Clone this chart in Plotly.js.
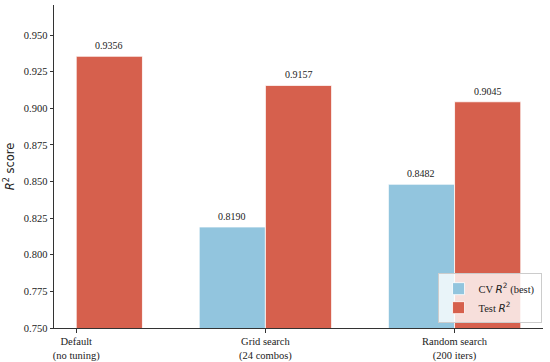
<!DOCTYPE html>
<html><head><meta charset="utf-8">
<script src="https://cdn.plot.ly/plotly-3.0.1.min.js"></script>
<style>html,body{margin:0;padding:0;background:#fff}#c{width:550px;height:362px}</style>
</head><body><div id="c"></div>
<script>
const categories = ["Default<br>(no tuning)", "Grid search<br>(24 combos)", "Random search<br>(200 iters)"];
const catPos = [0, 1, 2];
const cvValues = [null, 0.8190, 0.8482];
const testValues = [0.9356, 0.9157, 0.9045];
const rSym = "<span style='font-family:DejaVu Sans'><i>R</i><sup>2</sup></span>";
const cvName = "CV " + rSym + " (best)";
const testName = "Test " + rSym;
const yTicks = [0.750, 0.775, 0.800, 0.825, 0.850, 0.875, 0.900, 0.925, 0.950];

const W = 0.35;
const serif = "Liberation Serif";

const traces = [
  {type: "bar", name: cvName, x: catPos, y: cvValues, width: W, offset: -W,
   marker: {color: "#92c5de", line: {color: "#ffffff", width: 0.8}}, base: 0},
  {type: "bar", name: testName, x: catPos, y: testValues, width: W, offset: 0,
   marker: {color: "#d6604d", line: {color: "#ffffff", width: 0.8}}, base: 0}
];

const annotations = [];
catPos.forEach((p, i) => {
  if (cvValues[i] != null) annotations.push({x: p - W/2, y: cvValues[i], text: cvValues[i].toFixed(4),
    showarrow: false, yanchor: "bottom", yshift: 3, font: {family: serif, size: 10, color: "#222"}});
  annotations.push({x: p + W/2, y: testValues[i], text: testValues[i].toFixed(4),
    showarrow: false, yanchor: "bottom", yshift: 3, font: {family: serif, size: 10, color: "#222"}});
});

const layout = {
  width: 550, height: 362,
  margin: {l: 54, r: 7, t: 5, b: 34},
  paper_bgcolor: "#fff", plot_bgcolor: "#fff",
  barmode: "overlay",
  font: {family: serif, size: 10.5, color: "#222"},
  xaxis: {range: [-0.1175, 2.4675], tickvals: catPos, ticktext: categories,
    showgrid: false, zeroline: false, showline: true, linecolor: "#333", linewidth: 1,
    ticks: "outside", ticklen: 3.5, tickcolor: "#333", tickfont: {family: serif, size: 10.5, color: "#222"}},
  yaxis: {range: [0.75, 0.9706], tickvals: yTicks, ticktext: yTicks.map(v => v.toFixed(3)),
    showgrid: false, zeroline: false, showline: true, linecolor: "#333", linewidth: 1,
    ticks: "outside", ticklen: 3.5, tickcolor: "#333", tickfont: {family: serif, size: 10.5, color: "#222"},
    title: {text: "<i>R</i><sup>2</sup> score", font: {family: "DejaVu Sans", size: 11.5, color: "#222"}, standoff: 6}},
  legend: {x: 0.997, y: 0.015, xanchor: "right", yanchor: "bottom",
    bgcolor: "rgba(255,255,255,0.8)", bordercolor: "#ccc", borderwidth: 1,
    font: {family: serif, size: 10.5, color: "#222"}, tracegroupgap: 0},
  annotations: annotations,
  showlegend: true
};

Plotly.newPlot("c", traces, layout, {displayModeBar: false, staticPlot: true});
</script></body></html>
